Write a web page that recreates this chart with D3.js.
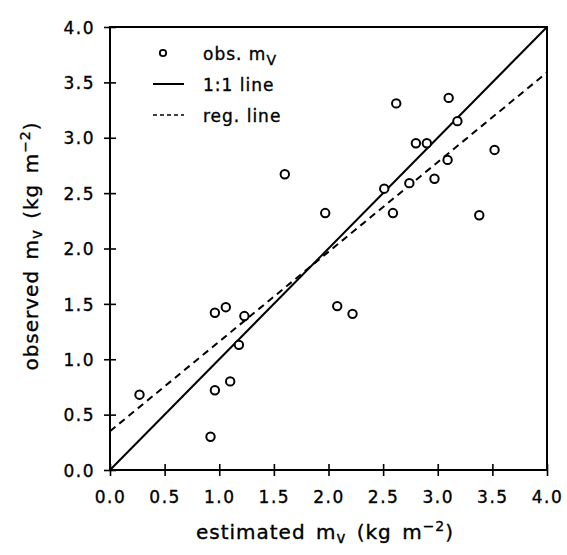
<!DOCTYPE html>
<html>
<head>
<meta charset="utf-8">
<script src="https://cdn.jsdelivr.net/npm/d3@7"></script>
<style>
  body { margin: 0; background: #fff; }
  text { font-family: 'DejaVu Sans', sans-serif; fill: #000; stroke: #000; stroke-width: 0.35px; }
</style>
</head>
<body>
<svg id="chart" width="567" height="555"></svg>
<script>
// estimated vs observed m_v (kg m-2)
const estimated = [0.27, 0.96, 1.06, 1.23, 1.18, 0.96, 1.10, 0.92, 1.97, 2.51, 2.74, 2.97,
  2.59, 3.38, 2.08, 2.22, 1.60, 2.62, 3.10, 3.18, 2.80, 2.90, 3.09, 3.52]
const observed = [0.68, 1.42, 1.47, 1.39, 1.13, 0.72, 0.80, 0.30, 2.32, 2.54, 2.59, 2.63,
  2.32, 2.30, 1.48, 1.41, 2.67, 3.31, 3.36, 3.15, 2.95, 2.95, 2.80, 2.89]
const tickValues = [0, 0.5, 1, 1.5, 2, 2.5, 3, 3.5, 4]
const oneToOne = [[0, 0], [4, 4]]
const regLine = [[0, 0.35], [4, 3.59]]
const legendItems = ['obs', 'one', 'reg']

const svg = d3.select('#chart')
const margin = {left: 110, right: 20, top: 27, bottom: 85}
const w = 567 - margin.left - margin.right
const h = 555 - margin.top - margin.bottom

const x = d3.scaleLinear().domain([0, 4]).range([0, w])
const y = d3.scaleLinear().domain([0, 4]).range([h, 0])

const g = svg.append('g').attr('transform', 'translate(' + margin.left + ',' + margin.top + ')')

// frame
g.append('rect')
  .attr('x', 0).attr('y', 0).attr('width', w).attr('height', h)
  .attr('fill', 'none').attr('stroke', '#000').attr('stroke-width', 2)

// axes, ticks crossing the axis line
let xAxis = g.append('g').attr('transform', 'translate(0,' + h + ')')
  .call(d3.axisBottom(x).tickValues(tickValues).tickSize(6).tickFormat(d3.format('.1f')))
let yAxis = g.append('g')
  .call(d3.axisLeft(y).tickValues(tickValues).tickSize(6).tickFormat(d3.format('.1f')))

xAxis.select('.domain').remove()
yAxis.select('.domain').remove()
xAxis.selectAll('line').attr('y1', -6).attr('y2', 6).attr('stroke-width', 1.6)
yAxis.selectAll('line').attr('x1', -6).attr('x2', 6).attr('stroke-width', 1.6)
xAxis.selectAll('text')
  .attr('y', 33).attr('dy', 0)
  .style('font-size', '17px').style('letter-spacing', '1.5px')
  .style('font-family', "'DejaVu Sans', sans-serif")
yAxis.selectAll('text')
  .attr('x', -15).attr('dy', '0.36em')
  .style('font-size', '17px').style('letter-spacing', '1.5px')
  .style('font-family', "'DejaVu Sans', sans-serif")

// lines
const line = d3.line().x(d => x(d[0])).y(d => y(d[1]))
g.append('path').datum(oneToOne).attr('d', line)
  .attr('fill', 'none').attr('stroke', '#000').attr('stroke-width', 2)
g.append('path').datum(regLine).attr('d', line)
  .attr('fill', 'none').attr('stroke', '#000').attr('stroke-width', 2)
  .attr('stroke-dasharray', '7,5')

// points
g.selectAll('circle.obs').data(estimated.map((e, i) => [e, observed[i]]))
  .enter().append('circle')
  .attr('class', 'obs')
  .attr('cx', d => x(d[0]))
  .attr('cy', d => y(d[1]))
  .attr('r', 4.2)
  .attr('fill', '#fff')
  .attr('stroke', '#000')
  .attr('stroke-width', 2)

// legend
let legend = svg.append('g').attr('transform', 'translate(153,0)')
legendItems.forEach(function (k, i) {
  let cy = 53 + i * 31
  if (k === 'obs') {
    legend.append('circle').attr('cx', 10).attr('cy', cy).attr('r', 3.2)
      .attr('fill', '#fff').attr('stroke', '#000').attr('stroke-width', 1.8)
  } else {
    legend.append('line').attr('x1', 0).attr('x2', 31).attr('y1', cy).attr('y2', cy)
      .attr('stroke', '#000').attr('stroke-width', k === 'one' ? 2 : 1.3)
      .attr('stroke-dasharray', k === 'reg' ? '4,3' : null)
  }
  let t = legend.append('text').attr('x', 50).attr('y', cy + 7)
    .style('font-size', '17px').style('letter-spacing', '1px')
  if (k === 'obs') {
    t.append('tspan').text('obs. m')
    t.append('tspan').attr('dy', 5).style('font-size', '14px').text('V')
  } else if (k === 'one') {
    t.text('1:1 line')
  } else {
    t.text('reg. line')
  }
})

// axis titles
function unitLabel (sel, first) {
  sel.append('tspan').text(first + ' m')
  sel.append('tspan').attr('dy', 4).style('font-size', '15px').text('v')
  sel.append('tspan').attr('dy', -4).text(' (kg m')
  sel.append('tspan').attr('dy', -8).style('font-size', '14px').text('−2')
  sel.append('tspan').attr('dy', 8).text(')')
}

let xt = svg.append('text')
  .attr('x', 325).attr('y', 539)
  .attr('text-anchor', 'middle')
  .style('font-size', '20px').style('letter-spacing', '1px').style('word-spacing', '3px')
unitLabel(xt, 'estimated')

let yt = svg.append('text')
  .attr('transform', 'translate(38,246) rotate(-90)')
  .attr('text-anchor', 'middle')
  .style('font-size', '20px').style('letter-spacing', '1px').style('word-spacing', '3px')
unitLabel(yt, 'observed')
</script>
</body>
</html>
